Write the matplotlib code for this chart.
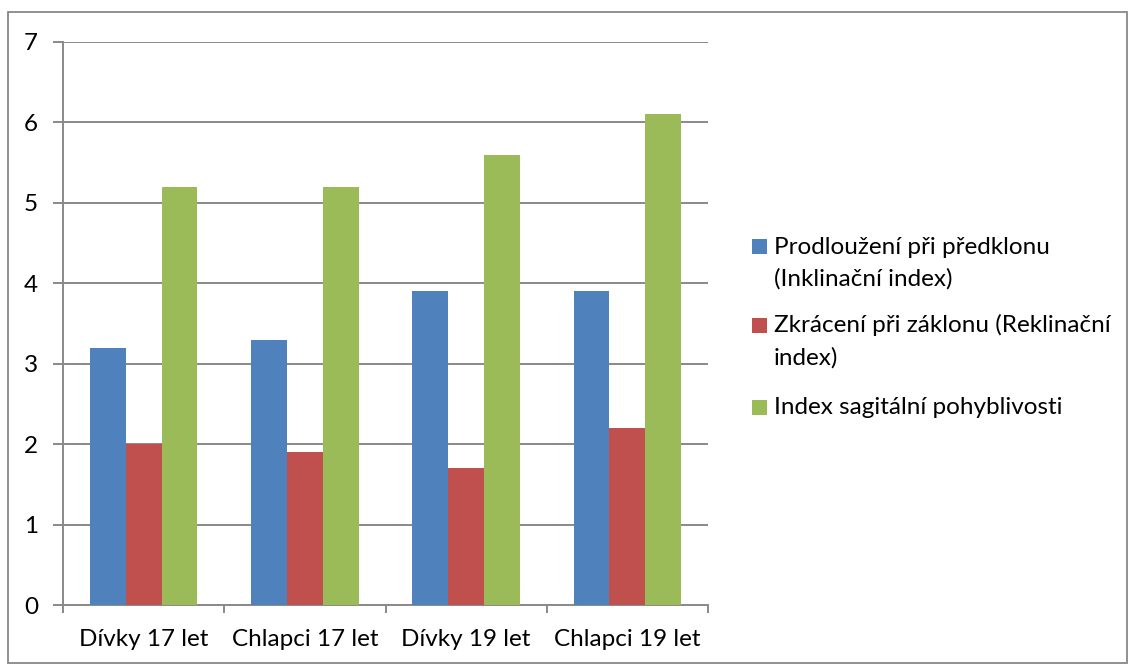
import matplotlib
matplotlib.use("Agg")
import matplotlib.pyplot as plt
from matplotlib.patches import Rectangle
import numpy as np

categories = ["Dívky 17 let", "Chlapci 17 let", "Dívky 19 let", "Chlapci 19 let"]
series_names = [
    "Prodloužení při předklonu\n(Inklinační index)",
    "Zkrácení při záklonu (Reklinační\nindex)",
    "Index sagitální pohyblivosti",
]
inklinacni = [3.2, 3.3, 3.9, 3.9]
reklinacni = [2.0, 1.9, 1.7, 2.2]
sagitalni = [5.2, 5.2, 5.6, 6.1]
y_ticks = [0, 1, 2, 3, 4, 5, 6, 7]

colors = ["#4F81BD", "#C0504D", "#9BBB59"]
grid_color = "#898989"
font_size = 17.5

plt.rcParams["font.family"] = ["Lato", "DejaVu Sans"]

W, H = 1129, 664
fig = plt.figure(figsize=(W / 100, H / 100), dpi=100)
fig.patch.set_facecolor("white")

# outer chart border
fig.add_artist(Rectangle((8 / W, 1 / H), (W - 10) / W, (H - 13) / H,
                         transform=fig.transFigure, fill=False,
                         edgecolor="#888888", linewidth=1.3))

ax = fig.add_axes([63 / W, 1 - 605 / H, (708 - 63) / W, (605 - 42) / H])

x = np.arange(len(categories))
bar_w = 1 / 4.5
for i, vals in enumerate([inklinacni, reklinacni, sagitalni]):
    ax.bar(x + (i - 1) * bar_w, vals, width=bar_w, color=colors[i],
           edgecolor="none", zorder=3)

ax.set_xlim(-0.5, len(categories) - 0.5)
ax.set_ylim(0, 7)
ax.set_yticks(y_ticks)
ax.yaxis.grid(True, color=grid_color, linewidth=1.4, zorder=0)
ax.set_axisbelow(True)

for s in ["top", "right"]:
    ax.spines[s].set_visible(False)
for s in ["left", "bottom"]:
    ax.spines[s].set_color(grid_color)
    ax.spines[s].set_linewidth(1.4)

ax.tick_params(axis="y", length=7, width=1.4, color=grid_color,
               labelsize=font_size, pad=11)
ax.set_xticks(x)
ax.set_xticklabels(categories)
ax.tick_params(axis="x", which="major", length=0, labelsize=font_size, pad=17)
ax.set_xticks(np.arange(len(categories) + 1) - 0.5, minor=True)
ax.tick_params(axis="x", which="minor", length=6, width=1.4, color=grid_color,
               direction="out")

# legend drawn as colour squares with wrapped labels, one text per line
legend_rows = [246.5, 325.5, 407.5]
line_step = 32
for name, col, yc in zip(series_names, colors, legend_rows):
    fig.add_artist(Rectangle((752 / W, 1 - (yc + 7.5) / H), 15 / W, 15 / H,
                             transform=fig.transFigure, facecolor=col,
                             edgecolor="none"))
    for k, line in enumerate(name.split("\n")):
        fig.text(774 / W, 1 - (yc + 7 + k * line_step) / H, line,
                 fontsize=font_size, va="baseline", ha="left")

fig.savefig("out.png", dpi=100, facecolor="white")
